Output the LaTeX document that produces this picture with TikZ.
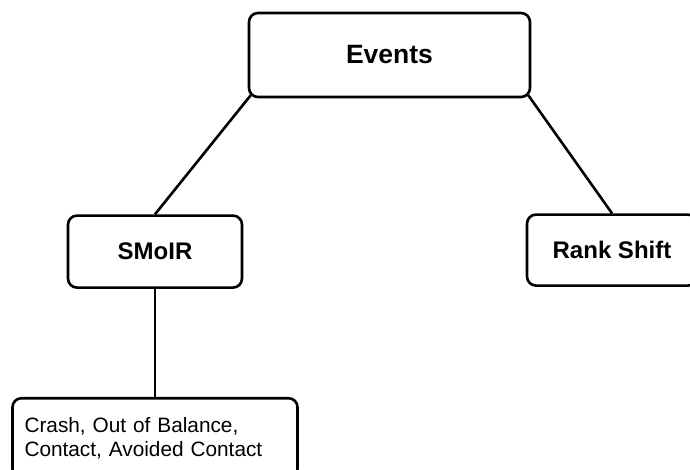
\documentclass[tikz,border=0pt]{standalone}
\usepackage{fontspec}
\setmainfont{Liberation Sans}
\usepackage{tikz}
\usetikzlibrary{positioning}

\begin{document}
\begin{tikzpicture}[x=1pt,y=1pt,line width=2.6pt]
    \tikzstyle{every node}=[draw=black,rounded corners=9pt,inner sep=0pt,node distance=116pt]
    \tikzstyle{bnode}=[font=\fontsize{24}{28}\selectfont\bfseries,minimum height=72pt]

    \useasboundingbox (0,0) rectangle (690,-470) ;
    \clip (0,0) rectangle (690,-470) ;

    \node[minimum width=281pt,minimum height=84pt,font=\fontsize{26.5}{30}\selectfont\bfseries] (events) at (389.5,-55) {Events} ;

    \node[bnode,below=of events,xshift=-234.5pt,minimum width=174pt] (smoir) {SMoIR} ;
    \node[bnode,below=115pt of events,xshift=222.5pt,minimum width=170pt,minimum height=71pt] (rank) {Rank Shift} ;

    \node[below=108pt of smoir,minimum width=285pt,minimum height=80pt,text width=261pt,align=left,
          font=\fontsize{20.8}{23.5}\selectfont] (detail) {Crash, Out of Balance,\\Contact, Avoided Contact} ;

    \draw ([xshift=3pt,yshift=3pt]events.south west) -- (smoir.north) ;
    \draw ([xshift=-3pt,yshift=3pt]events.south east) -- (rank.north) ;
    \draw (smoir.south) -- (detail.north) ;

\end{tikzpicture}
\end{document}
